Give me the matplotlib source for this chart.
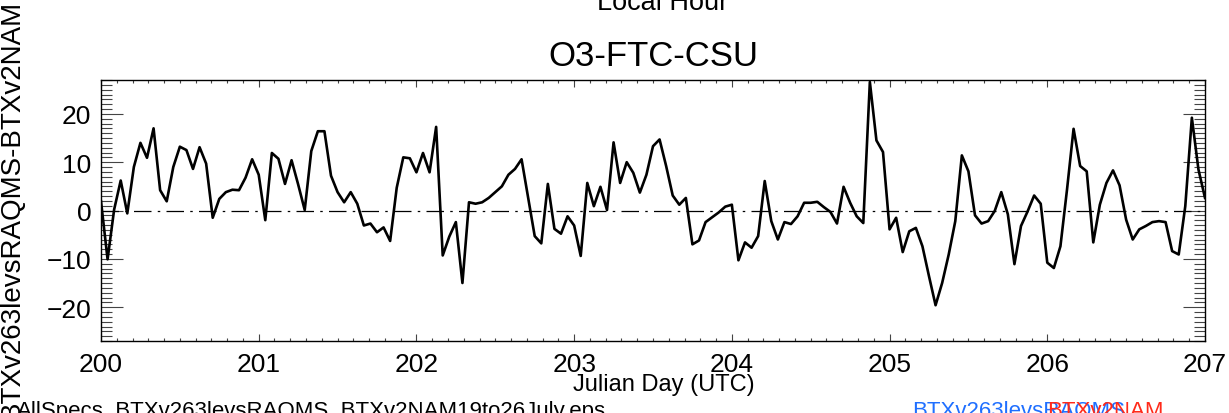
import numpy as np
import matplotlib
matplotlib.use("Agg")
import matplotlib.pyplot as plt
from matplotlib.ticker import MultipleLocator

# hourly O3 difference, 19-26 July (Julian day 200 -> 207)
o3_diff = [
    1.9, -10.1, 0.2, 6.2, -0.6, 9.0, 14.0, 10.9, 17.0, 4.2, 1.9, 9.0,
    13.2, 12.5, 8.6, 13.1, 9.7, -1.5, 2.4, 3.8, 4.3, 4.2, 6.8, 10.6,
    7.4, -2.0, 11.9, 10.7, 5.5, 10.4, 5.4, 0.1, 12.3, 16.4, 16.4, 7.2,
    3.8, 1.7, 3.8, 1.4, -3.1, -2.7, -4.5, -3.5, -6.3, 4.7, 11.0, 10.8,
    7.9, 11.9, 7.9, 17.3, -9.3, -5.4, -2.4, -15.0, 1.7, 1.4, 1.7, 2.6,
    3.8, 5.0, 7.4, 8.6, 10.6, 2.6, -5.3, -6.8, 5.5, -3.8, -4.8, -1.2,
    -3.1, -9.4, 5.7, 0.9, 4.9, 0.1, 14.1, 5.7, 10.0, 7.8, 3.7, 7.4,
    13.3, 14.7, 9.2, 3.1, 1.2, 2.6, -7.0, -6.2, -2.4, -1.4, -0.4, 0.8,
    1.2, -10.3, -6.6, -7.7, -5.3, 6.1, -2.2, -6.0, -2.4, -2.8, -1.2, 1.6,
    1.6, 1.8, 0.7, -0.3, -2.7, 4.9, 1.6, -1.2, -2.6, 26.6, 14.5, 12.1,
    -3.9, -1.5, -8.6, -4.3, -3.6, -7.4, -13.6, -19.6, -15.0, -9.1, -2.2, 11.4,
    8.1, -1.0, -2.7, -2.2, -0.1, 3.8, -0.8, -11.1, -3.2, -0.2, 3.1, 1.4,
    -10.8, -11.9, -7.4, 4.3, 16.9, 9.2, 8.1, -6.6, 1.2, 5.7, 8.3, 5.2,
    -1.9, -6.0, -3.9, -3.2, -2.4, -2.2, -2.4, -8.4, -9.1, 0.9, 19.2, 8.5,
    2.6,
]
start_day = 200
day_ticks = [200, 201, 202, 203, 204, 205, 206, 207]
y_ticks = [-20, -10, 0, 10, 20]

julian_day = start_day + np.arange(len(o3_diff)) / 24.0

plt.rcParams['font.family'] = ['Liberation Sans', 'DejaVu Sans']

fig = plt.figure(figsize=(12.29, 4.14), dpi=100)
ax = fig.add_axes([101 / 1229, 1 - 342 / 414, 1104 / 1229, 261 / 414])

ax.plot(julian_day, o3_diff, color='black', lw=1.9)
ax.axhline(0, color='black', lw=0.9, linestyle=(0, (14, 5, 2, 5)))

ax.set_xlim(200, 207)
ax.set_ylim(-27, 27)
ax.set_xticks(day_ticks)
ax.set_yticks(y_ticks)
ax.xaxis.set_minor_locator(MultipleLocator(0.1))
ax.yaxis.set_minor_locator(MultipleLocator(1))

ax.tick_params(axis='both', which='both', direction='in', top=True, right=True,
               width=0.8, color='#444444', labelsize=19)
ax.tick_params(axis='x', which='major', length=5, pad=8)
ax.tick_params(axis='x', which='minor', length=2.5)
ax.tick_params(axis='y', which='major', length=16, pad=7)
ax.tick_params(axis='y', which='minor', length=8)
for sp in ax.spines.values():
    sp.set_linewidth(1.0)

ax.set_title('O3-FTC-CSU', fontsize=25, pad=11)
fig.text(663 / 1229, 1 - 10 / 414, 'Local Hour', fontsize=19.5,
         ha='center', va='baseline')
fig.text(664 / 1229, 1 - 391 / 414, 'Julian Day (UTC)', fontsize=17,
         ha='center', va='baseline')
fig.text(12 / 1229, 211 / 414 - 0.015, 'BTXv263levsRAQMS-BTXv2NAM', fontsize=20,
         rotation=90, ha='center', va='center')

fig.text(17 / 1229, -0.007, 'AllSpecs_BTXv263levsRAQMS_BTXv2NAM19to26July.eps',
         fontsize=16, ha='left', va='baseline')
fig.text(912 / 1229, -0.007, 'BTXv263levsRAQMS', fontsize=16, color='#1f6fff',
         ha='left', va='baseline')
fig.text(1047 / 1229, -0.007, 'BTXv2NAM', fontsize=16, color='#ff2a1a',
         ha='left', va='baseline')

fig.savefig('out.png', dpi=100)
